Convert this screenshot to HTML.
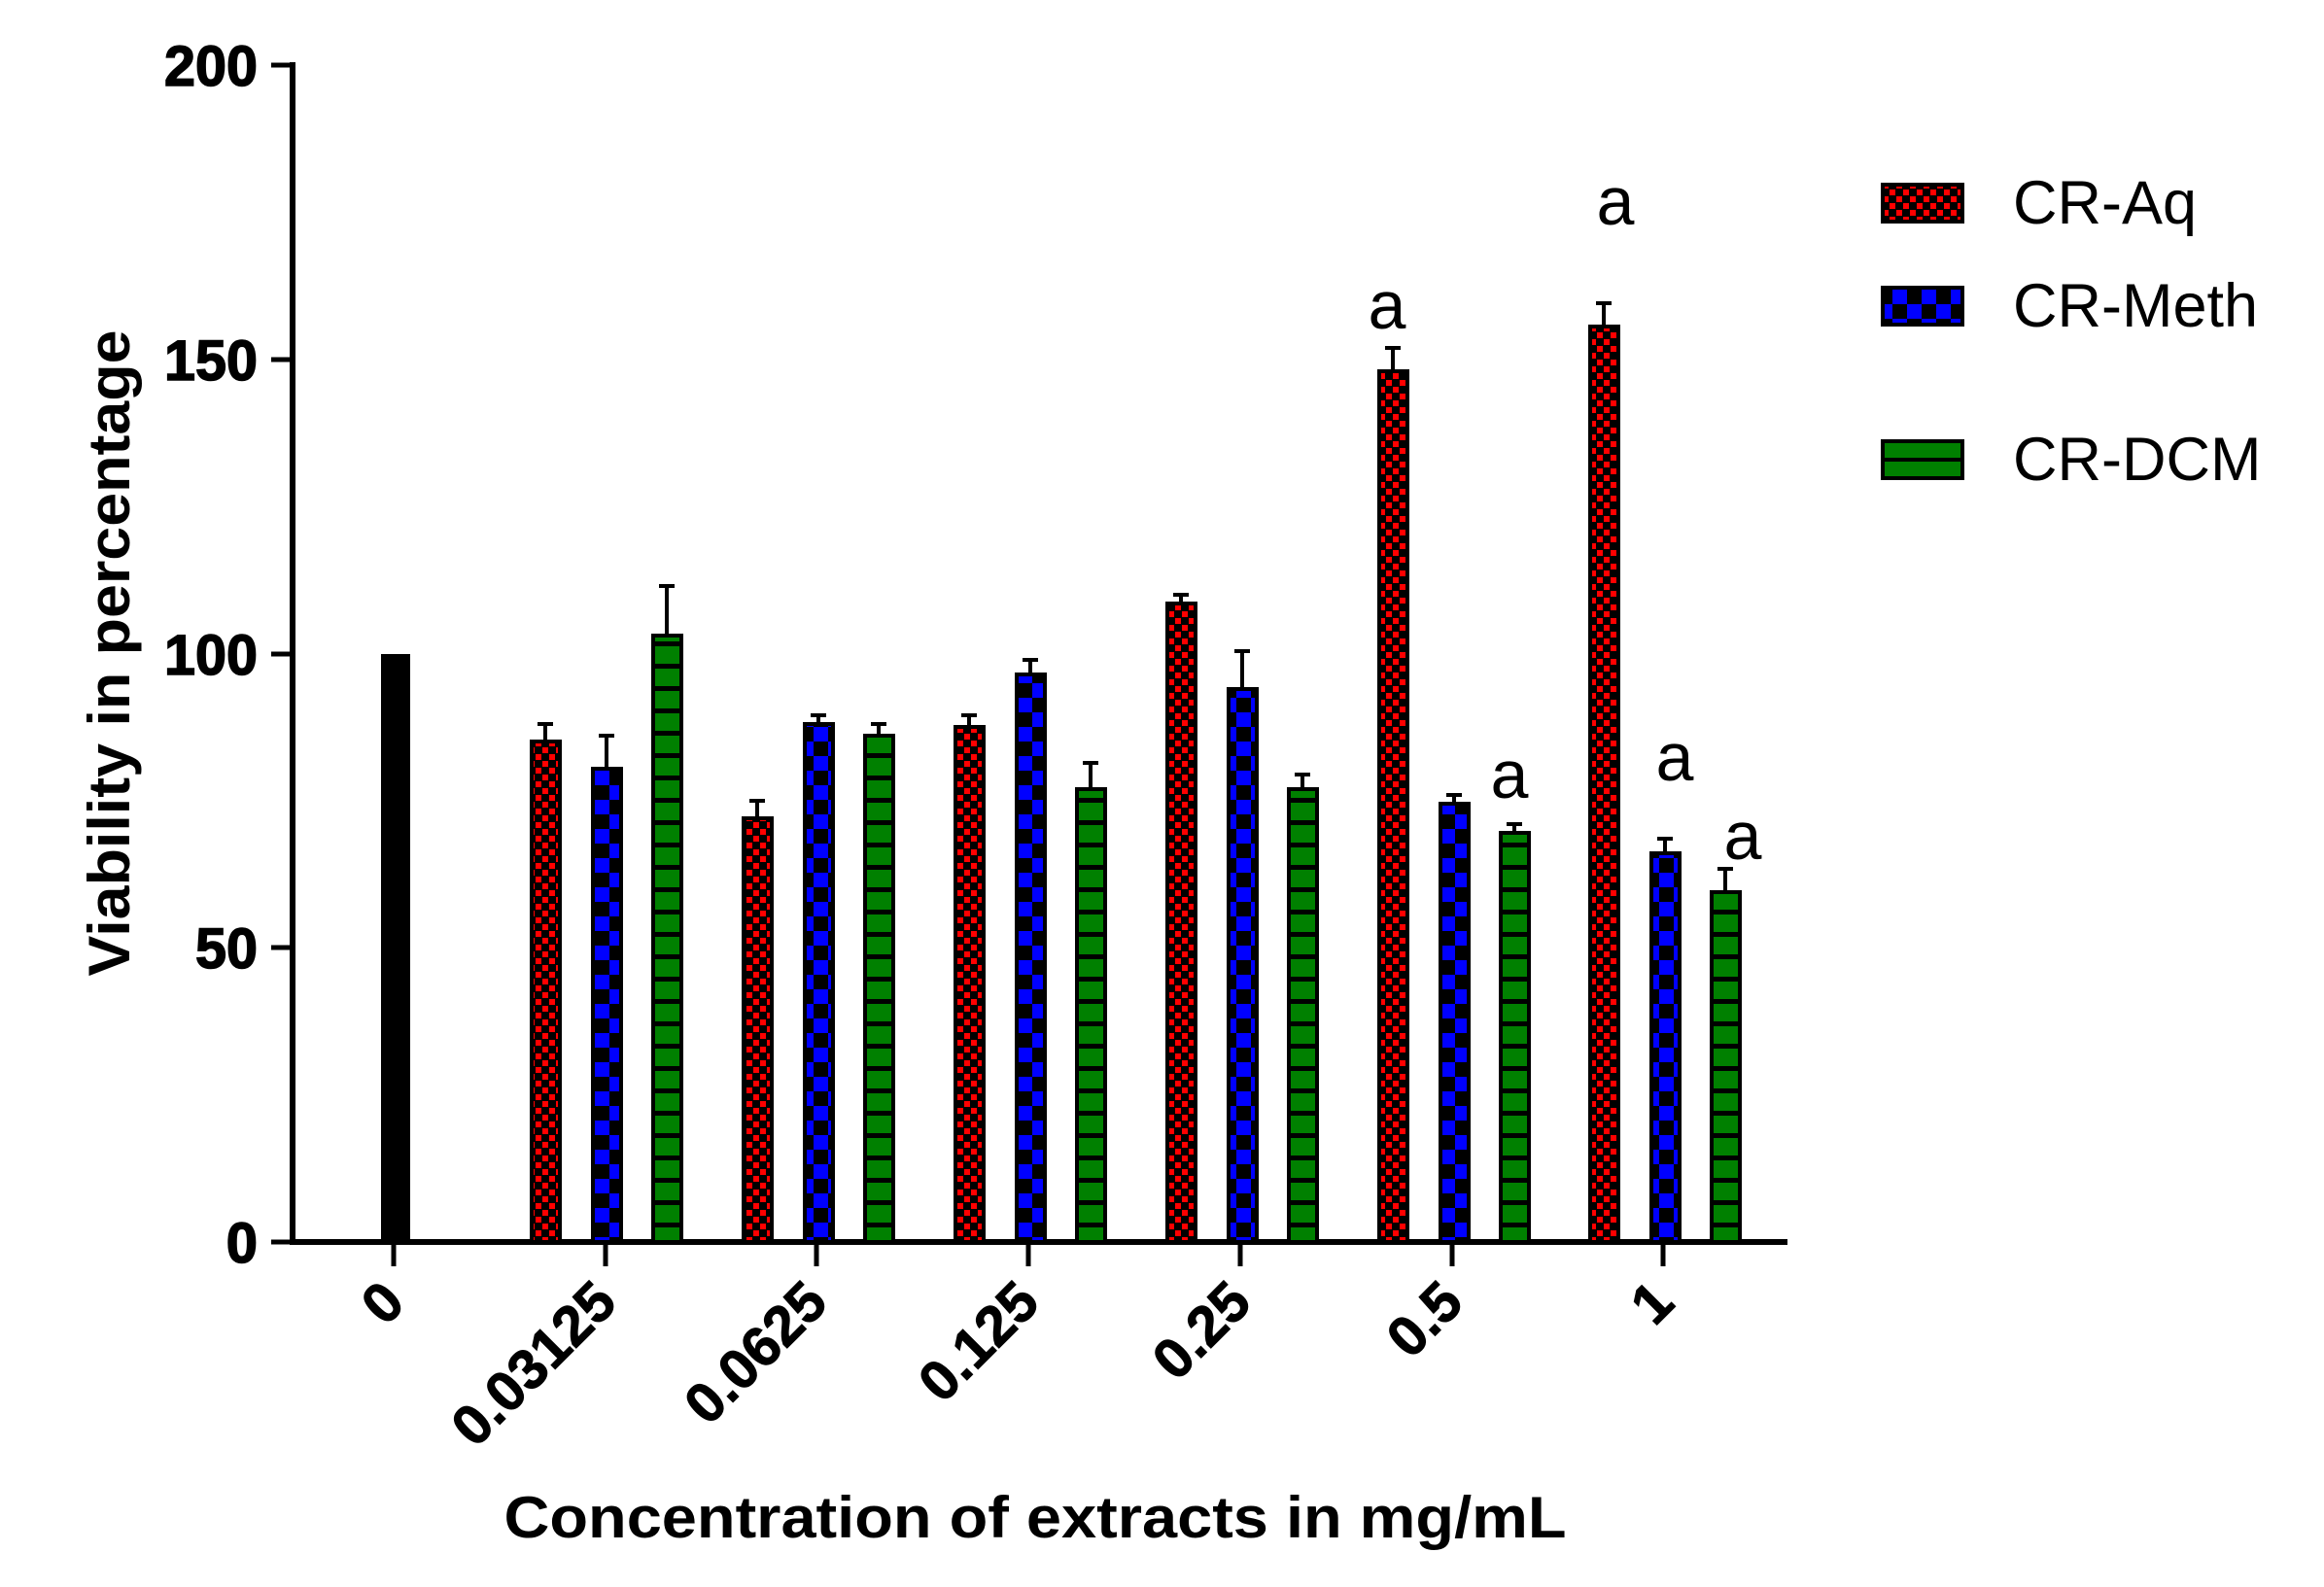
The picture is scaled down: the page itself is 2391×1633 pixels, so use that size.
<!DOCTYPE html>
<html><head><meta charset="utf-8"><style>
html,body{margin:0;padding:0;background:#fff}
svg{display:block}
</style></head><body>
<svg width="2391" height="1633" viewBox="0 0 2391 1633" xmlns="http://www.w3.org/2000/svg">
<defs>
<pattern id="pr" width="14" height="14" patternUnits="userSpaceOnUse">
<rect width="14" height="14" fill="#000"/><rect x="1" y="1" width="6" height="6" fill="#f00"/><rect x="8" y="8" width="6" height="6" fill="#f00"/></pattern>
<pattern id="pb" width="30" height="30" patternUnits="userSpaceOnUse">
<rect width="30" height="30" fill="#000"/><rect x="0" y="0" width="15" height="15" fill="#00f"/><rect x="15" y="15" width="15" height="15" fill="#00f"/></pattern>
<pattern id="pg" width="23" height="23" patternUnits="userSpaceOnUse">
<rect width="23" height="23" fill="#000"/><rect x="0" y="0" width="23" height="18" fill="#008000"/></pattern>
</defs>
<g font-family="Liberation Sans, Arial, sans-serif" transform="translate(-3,-2)">
<line x1="304" y1="66" x2="304" y2="1283" stroke="#000" stroke-width="6"/>
<line x1="301" y1="1280" x2="1842" y2="1280" stroke="#000" stroke-width="6"/>
<g stroke="#000" stroke-width="5">
<line x1="282" y1="69" x2="304" y2="69"/>
<line x1="282" y1="372" x2="304" y2="372"/>
<line x1="282" y1="675" x2="304" y2="675"/>
<line x1="282" y1="977" x2="304" y2="977"/>
<line x1="282" y1="1280" x2="304" y2="1280"/>
<line x1="408" y1="1280" x2="408" y2="1305"/>
<line x1="626" y1="1280" x2="626" y2="1305"/>
<line x1="843" y1="1280" x2="843" y2="1305"/>
<line x1="1061" y1="1280" x2="1061" y2="1305"/>
<line x1="1279" y1="1280" x2="1279" y2="1305"/>
<line x1="1497" y1="1280" x2="1497" y2="1305"/>
<line x1="1714" y1="1280" x2="1714" y2="1305"/>
</g>
<g font-size="58" font-weight="bold" text-anchor="end" stroke="#000" stroke-width="1.5">
<text x="268" y="90" textLength="96" lengthAdjust="spacingAndGlyphs">200</text>
<text x="268" y="393" textLength="96" lengthAdjust="spacingAndGlyphs">150</text>
<text x="268" y="696" textLength="96" lengthAdjust="spacingAndGlyphs">100</text>
<text x="268" y="998" textLength="64" lengthAdjust="spacingAndGlyphs">50</text>
<text x="268" y="1301">0</text>
</g>
<text transform="translate(136,674) rotate(-90)" font-size="60" font-weight="bold" text-anchor="middle" textLength="665" lengthAdjust="spacingAndGlyphs">Viability in percentage</text>
<text x="1068" y="1584" font-size="60" font-weight="bold" text-anchor="middle" textLength="1093" lengthAdjust="spacingAndGlyphs">Concentration of extracts in mg/mL</text>
<g font-size="58" font-weight="bold" text-anchor="end" stroke="#000" stroke-width="1">
<text transform="translate(422,1345) rotate(-45)">0</text>
<text transform="translate(640,1345) rotate(-45)">0.03125</text>
<text transform="translate(857,1345) rotate(-45)">0.0625</text>
<text transform="translate(1075,1345) rotate(-45)">0.125</text>
<text transform="translate(1293,1345) rotate(-45)">0.25</text>
<text transform="translate(1511,1345) rotate(-45)">0.5</text>
<text transform="translate(1728,1345) rotate(-45)">1</text>
</g>
<rect x="395" y="675" width="30" height="605" fill="#000"/>
<g stroke="#000" stroke-width="4">
<rect x="550" y="765" width="29" height="515" fill="url(#pr)"/>
<rect x="613" y="793" width="29" height="487" fill="url(#pb)"/>
<rect x="675" y="656" width="29" height="624" fill="url(#pg)"/>
<rect x="768" y="844" width="29" height="436" fill="url(#pr)"/>
<rect x="831" y="747" width="29" height="533" fill="url(#pb)"/>
<rect x="893" y="759" width="29" height="521" fill="url(#pg)"/>
<rect x="986" y="750" width="29" height="530" fill="url(#pr)"/>
<rect x="1049" y="696" width="29" height="584" fill="url(#pb)"/>
<rect x="1111" y="814" width="29" height="466" fill="url(#pg)"/>
<rect x="1204" y="623" width="29" height="657" fill="url(#pr)"/>
<rect x="1267" y="711" width="29" height="569" fill="url(#pb)"/>
<rect x="1329" y="814" width="29" height="466" fill="url(#pg)"/>
<rect x="1422" y="384" width="29" height="896" fill="url(#pr)"/>
<rect x="1485" y="829" width="29" height="451" fill="url(#pb)"/>
<rect x="1547" y="859" width="29" height="421" fill="url(#pg)"/>
<rect x="1639" y="338" width="29" height="942" fill="url(#pr)"/>
<rect x="1702" y="880" width="29" height="400" fill="url(#pb)"/>
<rect x="1764" y="920" width="29" height="360" fill="url(#pg)"/>
</g>
<g stroke="#000" stroke-width="4" fill="none">
<path d="M564 765V747M556 747H572"/>
<path d="M627 793V759M619 759H635"/>
<path d="M689 656V605M681 605H697"/>
<path d="M782 844V826M774 826H790"/>
<path d="M845 747V738M837 738H853"/>
<path d="M907 759V747M899 747H915"/>
<path d="M1000 750V738M992 738H1008"/>
<path d="M1063 696V681M1055 681H1071"/>
<path d="M1125 814V787M1117 787H1133"/>
<path d="M1218 623V614M1210 614H1226"/>
<path d="M1281 711V672M1273 672H1289"/>
<path d="M1343 814V799M1335 799H1351"/>
<path d="M1436 384V360M1428 360H1444"/>
<path d="M1499 829V820M1491 820H1507"/>
<path d="M1561 859V850M1553 850H1569"/>
<path d="M1653 338V314M1645 314H1661"/>
<path d="M1716 880V865M1708 865H1724"/>
<path d="M1778 920V896M1770 896H1786"/>
</g>
<g font-size="70" text-anchor="middle">
<text x="1430" y="340">a</text>
<text x="1665" y="233">a</text>
<text x="1556" y="823">a</text>
<text x="1726" y="805">a</text>
<text x="1796" y="886">a</text>
</g>
<g stroke="#000" stroke-width="4">
<rect x="1940" y="192" width="82" height="38" fill="url(#pr)"/>
<rect x="1940" y="298" width="82" height="38" fill="url(#pb)"/>
<rect x="1940" y="456" width="82" height="38" fill="#008000"/>
<line x1="1940" y1="475" x2="2022" y2="475"/>
</g>
<g font-size="63">
<text x="2074" y="232">CR-Aq</text>
<text x="2074" y="338">CR-Meth</text>
<text x="2074" y="496">CR-DCM</text>
</g>
</g>
</svg>
</body></html>
